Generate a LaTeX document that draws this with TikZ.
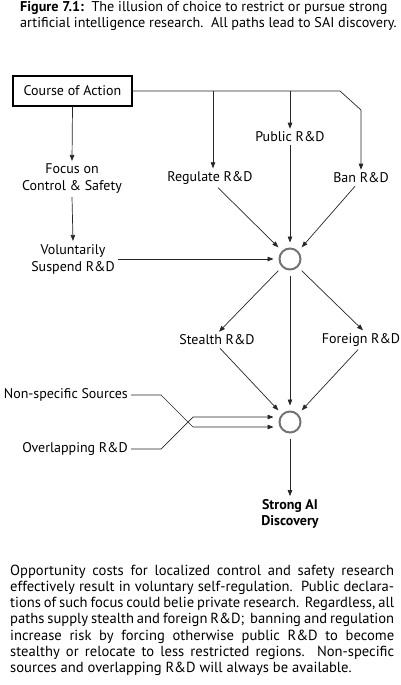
\documentclass[tikz,border=0pt]{standalone}
\usepackage{fontspec}
\setmainfont{PT Sans}
\usetikzlibrary{arrows.meta}
\begin{document}
\begin{tikzpicture}[x=1pt,y=-1pt,
  every node/.style={font=\fontsize{14}{17}\selectfont, inner sep=3pt},
  lbl/.style={align=center},
  junction/.style={circle, draw=black!55, line width=2pt, minimum size=21pt, inner sep=0pt, outer sep=6pt},
  conn/.style={line width=0.7pt, draw=black!85},
  arr/.style={conn, -{Triangle[length=6pt,width=4.5pt]}}]
\useasboundingbox (0,0) rectangle (400,685);

% title
\node[anchor=north west, align=left, inner sep=0pt, font=\fontsize{14.2}{16.5}\selectfont] (title) at (20,1)
  {\textbf{Figure 7.1:}\ \ The illusion of choice to restrict or pursue strong\\
   artificial intelligence research.\ \ All paths lead to SAI discovery.};

% nodes
\node[draw, line width=1.3pt, minimum width=119pt, minimum height=30pt] (coa) at (72.5,91) {Course of Action};
\node[lbl] (focus) at (72,179) {Focus on\\Control \& Safety};
\node[lbl] (vol) at (73,259) {Voluntarily\\Suspend R\&D};
\node[lbl] (reg) at (210,178) {Regulate R\&D};
\node[lbl] (pub) at (290,137) {Public R\&D};
\node[lbl] (ban) at (361,178) {Ban R\&D};
\node[junction] (c1) at (290,259) {};
\node[lbl] (stealth) at (217,340) {Stealth R\&D};
\node[lbl] (foreign) at (361,340) {Foreign R\&D};
\node[junction] (c2) at (290,422) {};
\node[anchor=east] (nons) at (131,395) {Non-specific Sources};
\node[anchor=east] (over) at (131,449) {Overlapping R\&D};
\node[lbl, font=\fontsize{14}{16.5}\selectfont\bfseries] (strong) at (290,514) {Strong AI\\Discovery};

% connectors from Course of Action
\draw[arr] (coa.east) -- (340,91) -- (361,110) -- (ban.north);
\draw[arr] ([xshift=3pt]reg.north |- coa.east) -- ([xshift=3pt]reg.north);
\draw[arr] (pub.north |- coa.east) -- (pub.north);
\draw[arr] (coa.south) -- (focus.north);
\draw[arr] (focus.south) -- (vol.north);

% into first junction
\draw[arr] (vol.east) -- (c1.west);
\draw[arr] ([xshift=8pt]reg.south) -- (c1.north west);
\draw[arr] (pub.south) -- (c1.north);
\draw[arr] ([xshift=-6pt]ban.south) -- (c1.north east);

% out of first junction
\draw[arr] (c1.south west) -- ([xshift=2pt]stealth.north);
\draw[arr] (c1.south east) -- ([xshift=2pt]foreign.north);
\draw[arr] (c1.south) -- (c2.north);

% into second junction
\draw[arr] ([xshift=3pt]stealth.south) -- (c2.north west);
\draw[arr] ([xshift=-3pt]foreign.south) -- (c2.north east);
\draw[arr] (nons.east) -- (161,395) -- (193,427) -- ([yshift=-5pt]c2.west);
\draw[arr] (over.east) -- (161,449) -- (193,417) -- ([yshift=5pt]c2.west);

% to discovery
\draw[arr] (c2.south) -- (strong.north);

% caption paragraph
\node[anchor=north west, align=left, inner sep=0pt, font=\fontsize{14.6}{16.1}\selectfont] (para) at (10,565)
  {\makebox[384pt][s]{Opportunity costs for localized control and safety research}\\
   \makebox[384pt][s]{effectively result in voluntary self-regulation.\ \ Public declara-}\\
   \makebox[384pt][s]{tions of such focus could belie private research.\ \ Regardless, all}\\
   \makebox[384pt][s]{paths supply stealth and foreign R\&D;\ \ banning and regulation}\\
   \makebox[384pt][s]{increase risk by forcing otherwise public R\&D to become}\\
   \makebox[384pt][s]{stealthy or relocate to less restricted regions.\ \ Non-specific}\\
   sources and overlapping R\&D will always be available.};
\end{tikzpicture}
\end{document}
